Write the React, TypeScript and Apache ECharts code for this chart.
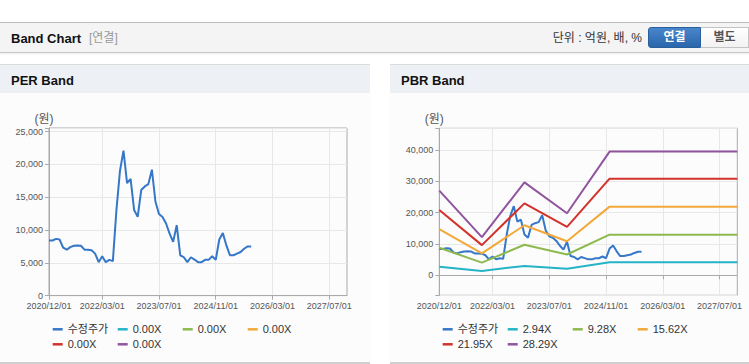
import React, { useEffect, useRef } from 'react';
import * as echarts from 'echarts';

// ---------- data ----------
// monthly categories 2020/12 .. 2027/12
const START_YEAR = 2020;
const START_MONTH = 12;
const MONTHS = 85;
const CATEGORIES: string[] = Array.from({ length: MONTHS }, (_, i) => {
  const t = START_MONTH - 1 + i;
  const y = START_YEAR + Math.floor(t / 12);
  const m = (t % 12) + 1;
  return `${y}/${String(m).padStart(2, '0')}/01`;
});
const TICK_LABELS = ['2020/12/01', '2022/03/01', '2023/07/01', '2024/11/01', '2026/03/01', '2027/07/01'];

// adjusted share price (수정주가), monthly from 2020/12
const PRICE = [
  8400, 8400, 8650, 8550, 7300, 7000, 7400, 7600, 7650, 7600,
  7000, 7000, 6900, 6400, 5100, 6000, 5100, 5450, 5250, 13000,
  19000, 22100, 17150, 17800, 13050, 12000, 16100, 16650, 17000, 19200,
  14350, 12450, 12000, 11000, 9450, 8200, 10750, 6150, 5850, 5100,
  5850, 5500, 5100, 5100, 5450, 5450, 6000, 5450, 8550, 9550,
  7650, 6150, 6150, 6400, 6650, 7150, 7500, 7500,
];

// PBR band vertices
const BAND_DATES = ['2020/12/01', '2021/12/01', '2022/12/01', '2023/12/01', '2024/12/01', '2027/12/01'];
const PBR_294 = [2750, 1400, 3000, 2100, 4200, 4200];
const PBR_928 = [8800, 4050, 9750, 6650, 13000, 13000];
const PBR_1562 = [14750, 7000, 16000, 10900, 21950, 21950];
const PBR_2195 = [20900, 9650, 23000, 15500, 30900, 30900];
const PBR_2829 = [27050, 12200, 29700, 19850, 39550, 39550];

const PER_LABELS = ['0.00X', '0.00X', '0.00X', '0.00X', '0.00X'];
const PBR_LABELS = ['2.94X', '9.28X', '15.62X', '21.95X', '28.29X'];
const PRICE_NAME = '수정주가';

const PRICE_COLOR = '#3577c8';
const BAND_COLORS = ['#25b4c7', '#8db94f', '#f2a93a', '#d3322b', '#91549e'];

const FONT = "'Liberation Sans', Arial, 'Noto Sans CJK KR', sans-serif";

function buildOption(kind: 'PER' | 'PBR'): any {
  const isPer = kind === 'PER';
  const labels = isPer ? PER_LABELS : PBR_LABELS;
  const bandValues = isPer ? [[], [], [], [], []] : [PBR_294, PBR_928, PBR_1562, PBR_2195, PBR_2829];
  const bandNames = labels.map((_, i) => `${kind}_${i}`);
  const display: Record<string, string> = { [PRICE_NAME]: PRICE_NAME };
  bandNames.forEach((n, i) => (display[n] = labels[i]));
  const allNames = [PRICE_NAME, ...bandNames];
  const step = isPer ? 5000 : 10000;
  const showTick = (_i: number, v: string) => TICK_LABELS.includes(v);

  const legendBase = {
    orient: 'horizontal',
    left: 52.7,
    padding: 0,
    itemGap: 5,
    itemWidth: 10,
    itemHeight: 2.5,
    icon: 'rect',
    selectedMode: false,
    formatter: (n: string) => display[n],
    textStyle: { fontSize: 11, color: '#333', width: 45, lineHeight: 13, fontFamily: FONT },
  };

  return {
    animation: false,
    textStyle: { fontFamily: FONT },
    grid: isPer
      ? { left: 49, top: 35, width: 298, height: 167.6, show: true, borderColor: '#aaaaaa', borderWidth: 1, backgroundColor: 'transparent' }
      : { left: 49.3, top: 35.3, width: 298, height: 167, show: true, borderColor: '#aaaaaa', borderWidth: 1, backgroundColor: 'transparent' },
    legend: [
      { ...legendBase, top: 229.8, data: allNames.slice(0, 4) },
      { ...legendBase, top: 244.8, data: allNames.slice(4) },
    ],
    xAxis: {
      type: 'category',
      data: CATEGORIES,
      boundaryGap: false,
      axisLine: { lineStyle: { color: '#aaaaaa' } },
      axisTick: { show: true, interval: showTick, length: 4, lineStyle: { color: '#aaaaaa' } },
      axisLabel: { interval: showTick, fontSize: 9, color: '#555', margin: 6, fontFamily: FONT },
      splitLine: { show: true, interval: showTick, lineStyle: { color: '#e8e8e8' } },
    },
    yAxis: {
      type: 'value',
      min: isPer ? 0 : -6400,
      max: isPer ? 25560 : 47000,
      ...(isPer ? { interval: 5000 } : {}),
      name: '(원)',
      nameLocation: 'end',
      nameGap: 3,
      nameTextStyle: { fontSize: 12, color: '#555', align: 'center', verticalAlign: 'bottom', padding: [0, 10, 0, 0], fontFamily: FONT },
      axisLine: { show: true, lineStyle: { color: '#aaaaaa' } },
      axisTick: { show: true, length: 4, lineStyle: { color: '#aaaaaa' } },
      axisLabel: {
        fontSize: 9,
        color: '#555',
        margin: 6,
        fontFamily: FONT,
        formatter: (v: number) => (Math.abs(v % step) < 1e-6 ? v.toLocaleString('en-US') : ''),
      },
      splitLine: { show: true, lineStyle: { color: '#e8e8e8' } },
    },
    series: [
      {
        name: PRICE_NAME,
        type: 'line',
        data: PRICE,
        color: PRICE_COLOR,
        showSymbol: false,
        symbol: 'none',
        lineStyle: { width: 2, color: PRICE_COLOR },
      },
      ...bandNames.map((n, i) => ({
        name: n,
        type: 'line',
        color: BAND_COLORS[i],
        showSymbol: false,
        symbol: 'none',
        lineStyle: { width: 2, color: BAND_COLORS[i] },
        data: (bandValues[i] as number[]).map((v, j) => [BAND_DATES[j], v]),
      })),
    ],
  };
}

function Chart({ kind, style }: { kind: 'PER' | 'PBR'; style: React.CSSProperties }) {
  const ref = useRef<HTMLDivElement>(null);
  useEffect(() => {
    if (!ref.current) return;
    const chart = echarts.init(ref.current, undefined, { renderer: 'svg' });
    chart.setOption(buildOption(kind));
    return () => chart.dispose();
  }, [kind]);
  return <div ref={ref} style={{ position: 'absolute', ...style }} />;
}

function Panel({ title, left, width, kind }: { title: string; left: number; width: number; kind: 'PER' | 'PBR' }) {
  return (
    <>
      <div
        style={{
          position: 'absolute', left, top: 64, width, height: 29, boxSizing: 'border-box',
          borderTop: '1px solid #dcdcdc', background: '#edf1f6',
          fontWeight: 'bold', fontSize: 13, color: '#111', lineHeight: '31px', paddingLeft: 11,
        }}
      >
        {title}
      </div>
      <div style={{ position: 'absolute', left, top: 93, width, height: 270, background: '#fcfcfc' }} />
      <div style={{ position: 'absolute', left, top: 362, width, height: 2, background: '#d0d0d0' }} />
      <Chart kind={kind} style={{ left, top: 93, width, height: 269 }} />
    </>
  );
}

export default function App() {
  return (
    <div
      style={{
        position: 'fixed', left: 0, top: 0, width: 749, height: 364, overflow: 'hidden',
        background: '#fff', fontFamily: FONT,
      }}
    >
      <div
        style={{
          position: 'absolute', left: 0, top: 22, width: 760, height: 31, boxSizing: 'border-box',
          background: '#f4f4f4', borderTop: '1px solid #bdbdbd', borderBottom: '1px solid #c6c6c6',
          boxShadow: '0 1px 2px rgba(0,0,0,0.08)',
        }}
      />
      <div style={{ position: 'absolute', left: 11, top: 24, lineHeight: '29px', fontSize: 13, fontWeight: 'bold', color: '#111' }}>
        Band Chart
      </div>
      <div style={{ position: 'absolute', left: 89, top: 24, lineHeight: '29px', fontSize: 12, color: '#999' }}>[연결]</div>
      <div style={{ position: 'absolute', right: 107, top: 24, lineHeight: '29px', fontSize: 12, color: '#333', whiteSpace: 'nowrap' }}>
        단위 : 억원, 배, %
      </div>
      <div
        style={{
          position: 'absolute', left: 648, top: 27, width: 53, height: 21, boxSizing: 'border-box',
          background: 'linear-gradient(#4886cc, #2b66ab)', border: '1px solid #2a5f9e', borderRadius: '3px 0 0 3px',
          color: '#fff', fontWeight: 'bold', fontSize: 12, lineHeight: '19px', textAlign: 'center',
        }}
      >
        연결
      </div>
      <div
        style={{
          position: 'absolute', left: 701, top: 27, width: 48, height: 21, boxSizing: 'border-box',
          background: 'linear-gradient(#ffffff, #f2f2f2)', border: '1px solid #c4c4c4', borderLeft: 'none',
          color: '#555', fontWeight: 'bold', fontSize: 12, lineHeight: '19px', textAlign: 'center',
        }}
      >
        별도
      </div>
      <Panel title="PER Band" left={0} width={370} kind="PER" />
      <Panel title="PBR Band" left={390} width={359} kind="PBR" />
    </div>
  );
}
